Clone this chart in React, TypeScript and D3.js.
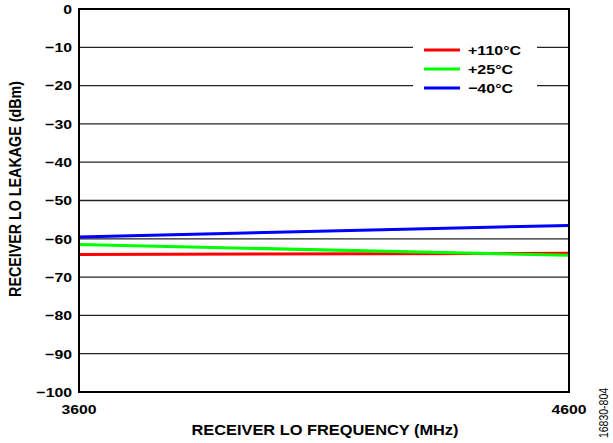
import React from "react";
import * as d3 from "d3";

const freqs = [3600, 4600];
const seriesNames = ["+110°C", "+25°C", "−40°C"];
const seriesColors = ["#ff0000", "#00ff00", "#0000ff"];
const red110 = [-64.1, -63.8];
const green25 = [-61.5, -64.3];
const blueM40 = [-59.5, -56.5];
const yTicks = [0, -10, -20, -30, -40, -50, -60, -70, -80, -90, -100];
const xTicks = [3600, 4600];

const W = 613;
const H = 443;
const M = { left: 79, right: 569, top: 9, bottom: 392 };
const SX = 1.17;

export default function App() {
  const x = d3.scaleLinear().domain([3600, 4600]).range([M.left, M.right]);
  const y = d3.scaleLinear().domain([-100, 0]).range([M.bottom, M.top]);
  const line = d3
    .line<[number, number]>()
    .x((d) => x(d[0]))
    .y((d) => y(d[1]));
  const series = [red110, green25, blueM40];
  const font = "'Liberation Sans', Arial, sans-serif";
  const legX = 413;
  const legW = 124;
  const legRows = [50, 69, 88];
  return (
    <svg
      width={W}
      height={H}
      style={{ position: "absolute", left: 0, top: 0 }}
      fontFamily={font}
    >
      <rect width={W} height={H} fill="#fff" />
      {yTicks.map((t) => (
        <line
          key={t}
          x1={M.left}
          x2={M.right}
          y1={y(t)}
          y2={y(t)}
          stroke="#222"
          strokeWidth={1.3}
        />
      ))}
      <rect x={legX} y={38} width={legW} height={60} fill="#fff" />
      {series.map((s, i) => (
        <path
          key={i}
          d={line(freqs.map((f, j) => [f, s[j]]) as [number, number][]) || ""}
          fill="none"
          stroke={seriesColors[i]}
          strokeWidth={3}
        />
      ))}
      <rect
        x={M.left}
        y={M.top}
        width={M.right - M.left}
        height={M.bottom - M.top}
        fill="none"
        stroke="#000"
        strokeWidth={2}
      />
      {seriesNames.map((n, i) => (
        <g key={n}>
          <line
            x1={424}
            x2={460}
            y1={legRows[i]}
            y2={legRows[i]}
            stroke={seriesColors[i]}
            strokeWidth={3}
          />
          <text
            transform={`translate(468,${legRows[i]}) scale(${SX},1)`}
            dy="0.36em"
            fontSize={13.7}
            fontWeight="bold"
          >
            {n}
          </text>
        </g>
      ))}
      {yTicks.map((t) => (
        <text
          key={t}
          transform={`translate(72,${y(t)}) scale(${SX},1)`}
          dy="0.36em"
          textAnchor="end"
          fontSize={13.5}
          fontWeight="bold"
        >
          {t === 0 ? "0" : "−" + Math.abs(t)}
        </text>
      ))}
      {xTicks.map((t) => (
        <text
          key={t}
          transform={`translate(${x(t)},409) scale(${SX},1)`}
          dy="0.36em"
          textAnchor="middle"
          fontSize={13.5}
          fontWeight="bold"
        >
          {t}
        </text>
      ))}
      <text
        transform={`translate(325,430) scale(${SX},1)`}
        dy="0.36em"
        textAnchor="middle"
        fontSize={14}
        fontWeight="bold"
      >
        RECEIVER LO FREQUENCY (MHz)
      </text>
      <text
        transform={`translate(15,189) scale(${SX},1) rotate(-90)`}
        dy="0.36em"
        textAnchor="middle"
        fontSize={14.3}
        fontWeight="bold"
      >
        RECEIVER LO LEAKAGE (dBm)
      </text>
      <text
        transform={`translate(604,413) scale(${SX},1) rotate(-90)`}
        dy="0.36em"
        textAnchor="middle"
        fontSize={10.5}
      >
        16830-804
      </text>
    </svg>
  );
}
